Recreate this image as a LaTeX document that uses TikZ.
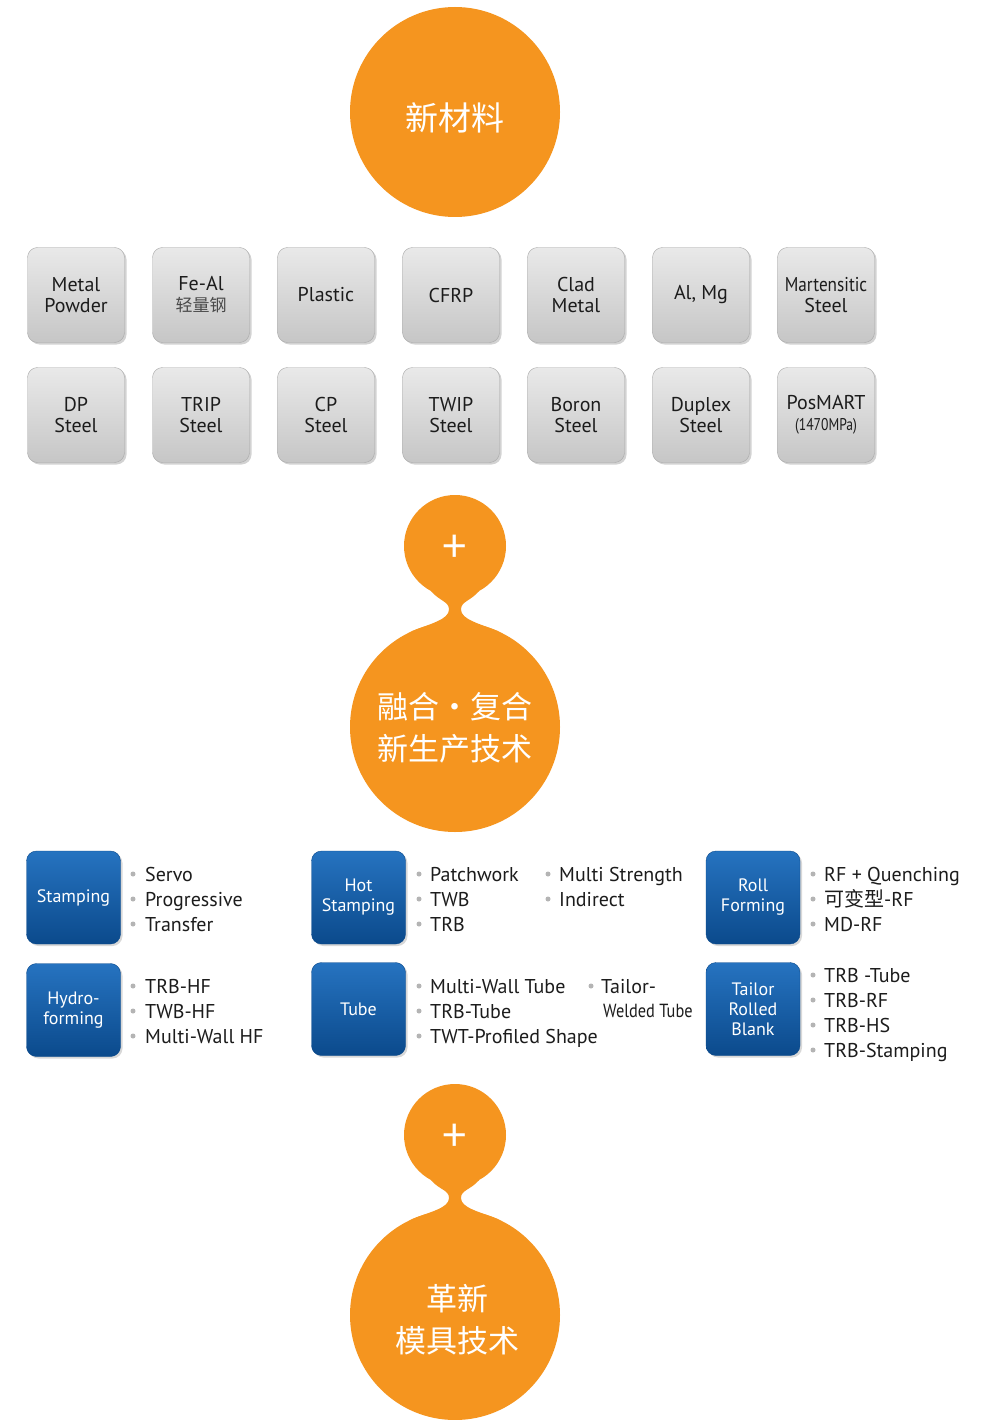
\documentclass[tikz,border=0pt]{standalone}
\usepackage{fontspec}
\setmainfont{PT Sans}
\newfontfamily\cjk{Noto Sans CJK SC}
\usetikzlibrary{calc}
\usetikzlibrary{shadows}

\definecolor{orng}{HTML}{F5951F}
\definecolor{boxtop}{HTML}{E9E9E9}
\definecolor{boxbot}{HTML}{C6C6C6}
\definecolor{bluetop}{HTML}{2673C0}
\definecolor{bluebot}{HTML}{0B4A8C}
\definecolor{dotgray}{HTML}{B4B4B4}
\definecolor{ink}{HTML}{1C1C1C}

% neck between a small and a big bubble
\newcommand\neck[2]{
  \fill[orng] (#1.-118) .. controls +(9,10) and +(0,-8) .. ($(#1.south)!.5!(#2.north)+(-6,0)$)
    .. controls +(0,10) and +(20,-8) .. (#2.115) -- (#2.65)
    .. controls +(-20,-8) and +(0,10) .. ($(#1.south)!.5!(#2.north)+(6,0)$)
    .. controls +(0,-8) and +(-9,10) .. (#1.-62) -- cycle;
}

\begin{document}
\begin{tikzpicture}[x=1pt, y=-1pt,
    bubble/.style={circle, fill=orng, inner sep=0pt, text=white, align=center},
    bubtext/.style={text=white, align=center, font=\cjk\fontsize{31}{42}\selectfont},
    matbox/.style={rounded corners=10pt, minimum width=97pt, minimum height=95pt,
      top color=boxtop, bottom color=boxbot, draw=boxbot!85!black, line width=.4pt,
      drop shadow={shadow xshift=2pt, shadow yshift=-2pt, opacity=.35},
      align=center, text=ink, font=\fontsize{20}{21}\selectfont},
    procbox/.style={rounded corners=10pt, minimum width=94pt, minimum height=93pt,
      top color=bluetop, bottom color=bluebot, draw=bluebot,
      drop shadow={shadow xshift=2pt, shadow yshift=-2pt, opacity=.3},
      align=center, text=white, font=\fontsize{18}{20}\selectfont},
    item/.style={anchor=base west, inner sep=0pt, text=ink, font=\fontsize{20}{24}\selectfont}]
  \clip (0,0) rectangle (985,1420);
  \fill[white] (0,0) rectangle (985,1420);

  % top bubble
  \node[bubble, minimum size=210pt] (m1) at (455,112) {};
  \node[bubtext, font=\cjk\fontsize{33}{42}\selectfont] (m1t) at (455,118) {新材料};

  % materials
  \foreach \t [count=\i from 0] in {{Metal\\Powder}, {Fe-Al\\{\cjk\fontsize{17}{19}\selectfont\color{ink!80}轻量钢}}, Plastic, CFRP, {Clad\\Metal}, {Al, Mg}, {\scalebox{.86}[1]{Martensitic}\\Steel}}
    \node[matbox] (a\i) at (76+125*\i,295) {\t};
  \foreach \t [count=\i from 0] in {{DP\\Steel}, {TRIP\\Steel}, {CP\\Steel}, {TWIP\\Steel}, {Boron\\Steel}, {Duplex\\Steel}, {PosMART\\{\fontsize{17}{19}\selectfont\scalebox{.8}[1]{(1470MPa)}}}}
    \node[matbox] (b\i) at (76+125*\i,415) {\t};

  % first plus
  \node[bubble, minimum size=102pt] (p1) at (455,546) {};
  \node[bubtext, font=\cjk\fontsize{44}{44}\selectfont] (p1t) at (455,549) {+};
  \node[bubble, minimum size=210pt] (m2) at (455,727) {};
  \node[bubtext] (m2t) at (455,728) {融合\makebox[32pt]{·}复合\\新生产技术};
  \neck{p1}{m2}

  % processes
  \node[procbox] (stamp) at (73.5,897.5) {Stamping};
  \node[procbox] (hot) at (358.5,897.5) {Hot\\Stamping};
  \node[procbox] (roll) at (753,897.5) {Roll\\Forming};
  \node[procbox] (hydro) at (73.5,1010) {Hydro-\\forming};
  \node[procbox] (tube) at (358.5,1009) {Tube};
  \node[procbox] (trb) at (753,1009) {Tailor\\Rolled\\Blank};

  % lists
  \foreach \y/\t in {881/Servo, 906/Progressive, 931/Transfer}{
    \fill[dotgray] (133,\y-7) circle[radius=2.5pt];
    \node[item] (s\y) at (145,\y) {\t};}
  \foreach \y/\t in {993/TRB-HF, 1018/TWB-HF, 1043/Multi-Wall HF}{
    \fill[dotgray] (133,\y-7) circle[radius=2.5pt];
    \node[item] (h\y) at (145,\y) {\t};}
  \foreach \y/\t in {881/Patchwork, 906/TWB, 931/TRB}{
    \fill[dotgray] (419,\y-7) circle[radius=2.5pt];
    \node[item] (hs\y) at (430,\y) {\t};}
  \foreach \y/\t in {881/Multi Strength, 906/Indirect}{
    \fill[dotgray] (548,\y-7) circle[radius=2.5pt];
    \node[item] (hx\y) at (559,\y) {\t};}
  \foreach \y/\t in {993/Multi-Wall Tube, 1018/TRB-Tube, 1043/TWT-Profiled Shape}{
    \fill[dotgray] (419,\y-7) circle[radius=2.5pt];
    \node[item] (t\y) at (430,\y) {\t};}
  \fill[dotgray] (591,986) circle[radius=2.5pt];
  \node[item] (tw1) at (601,993) {Tailor-};
  \node[item, font=\fontsize{19}{20}\selectfont] (tw2) at (603,1017) {\scalebox{.86}[1]{Welded Tube}};
  \foreach \y/\t in {881/RF + Quenching, 906/{\cjk 可变型}-RF, 931/MD-RF}{
    \fill[dotgray] (813,\y-7) circle[radius=2.5pt];
    \node[item] (r\y) at (824,\y) {\t};}
  \foreach \y/\t in {982/TRB -Tube, 1007/TRB-RF, 1032/TRB-HS, 1057/TRB-Stamping}{
    \fill[dotgray] (813,\y-7) circle[radius=2.5pt];
    \node[item] (tr\y) at (824,\y) {\t};}

  % second plus
  \node[bubble, minimum size=102pt] (p2) at (455,1135) {};
  \node[bubtext, font=\cjk\fontsize{44}{44}\selectfont] (p2t) at (455,1138) {+};
  \node[bubble, minimum size=210pt] (m3) at (455,1315) {};
  \node[bubtext] (m3t) at (457,1320) {革新\\模具技术};
  \neck{p2}{m3}
\end{tikzpicture}
\end{document}
